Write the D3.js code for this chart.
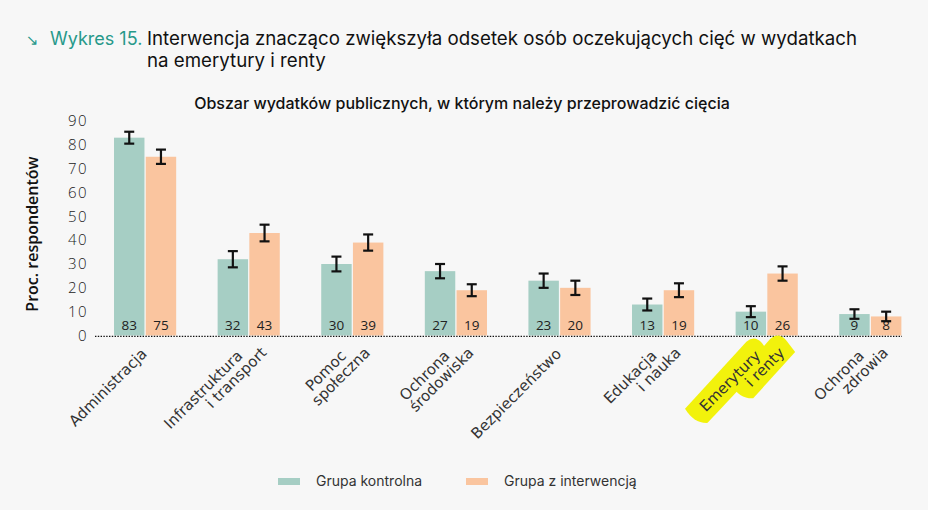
<!DOCTYPE html>
<html>
<head>
<meta charset="utf-8">
<script src="https://cdn.jsdelivr.net/npm/d3@7"></script>
<style>
  html, body { margin: 0; padding: 0; background: #f7f7f7; }
  svg { display: block; }
</style>
</head>
<body>
<svg id="chart" width="928" height="510"></svg>
<script>
// ---- data ----
const categories = [
  ["Administracja"],
  ["Infrastruktura", "i transport"],
  ["Pomoc", "społeczna"],
  ["Ochrona", "środowiska"],
  ["Bezpieczeństwo"],
  ["Edukacja", "i nauka"],
  ["Emerytury", "i renty"],
  ["Ochrona", "zdrowia"]
];
const seriesNames = ["Grupa kontrolna", "Grupa z interwencją"];
const controlValues = [83, 32, 30, 27, 23, 13, 10, 9];
const interventionValues = [75, 43, 39, 19, 20, 19, 26, 8];
const controlErrors = [2.5, 3.4, 3.1, 3.0, 3.0, 2.5, 2.3, 2.0];
const interventionErrors = [3.0, 3.5, 3.4, 2.5, 3.0, 2.9, 3.0, 2.0];
const yTicks = [0, 10, 20, 30, 40, 50, 60, 70, 80, 90];
const highlightIndex = 6;

const colors = ["#a6cec4", "#fac59f"];
const teal = "#27998a";

const svg = d3.select("#chart");

// title
const title = svg.append("g").attr("font-family", "Inter, Roboto, sans-serif");
title.append("text").attr("x", 26).attr("y", 45).attr("fill", teal)
  .attr("font-size", 15).attr("font-family", "DejaVu Sans").text("↘");
title.append("text").attr("x", 50).attr("y", 45).attr("fill", teal)
  .attr("font-size", 18).text("Wykres 15.");
title.append("text").attr("x", 147).attr("y", 45).attr("fill", "#111")
  .attr("font-size", 18.7).text("Interwencja znacząco zwiększyła odsetek osób oczekujących cięć w wydatkach");
title.append("text").attr("x", 147).attr("y", 67).attr("fill", "#111")
  .attr("font-size", 18.7).text("na emerytury i renty");

// subtitle
svg.append("text").attr("x", 462).attr("y", 109).attr("text-anchor", "middle")
  .attr("font-family", "Inter, sans-serif").attr("font-weight", 500)
  .attr("font-size", 16).attr("fill", "#111")
  .text("Obszar wydatków publicznych, w którym należy przeprowadzić cięcia");

// scales
const idx = d3.range(categories.length);
const x0 = d3.scaleBand().domain(idx).range([93.3, 922.1]).paddingInner(0.4).paddingOuter(0.2);
const x1 = d3.scaleBand().domain([0, 1]).range([0, x0.bandwidth()]).paddingInner(0.04);
const y = d3.scaleLinear().domain([0, 90]).range([335.5, 121]);

// y axis
const yAxis = d3.axisLeft(y).tickValues(yTicks).tickSize(0).tickPadding(0);
const gy = svg.append("g").attr("transform", "translate(88,0)").call(yAxis);
gy.select(".domain").remove();
gy.selectAll("text").attr("font-family", "'Open Sans', sans-serif").attr("font-size", 15)
  .attr("font-weight", 300).attr("letter-spacing", 1.5).attr("fill", "#222");

// y title
svg.append("text").attr("transform", "translate(38,234) rotate(-90)")
  .attr("text-anchor", "middle").attr("font-family", "'Open Sans', sans-serif")
  .attr("font-weight", 600).attr("font-size", 16).attr("fill", "#111")
  .text("Proc. respondentów");

// bars
const rows = idx.map(i => ({
  i,
  vals: [controlValues[i], interventionValues[i]],
  errs: [controlErrors[i], interventionErrors[i]]
}));
const groups = svg.append("g").selectAll("g").data(rows).join("g")
  .attr("transform", d => `translate(${x0(d.i)},0)`);

const cells = groups.selectAll("g.cell")
  .data(d => d.vals.map((v, s) => ({ v, s, e: d.errs[s] })))
  .join("g").attr("class", "cell");

cells.append("rect")
  .attr("x", d => x1(d.s)).attr("width", x1.bandwidth())
  .attr("y", d => y(d.v)).attr("height", d => y(0) - y(d.v))
  .attr("fill", d => colors[d.s]);

cells.append("text")
  .attr("x", d => x1(d.s) + x1.bandwidth() / 2).attr("y", 330)
  .attr("text-anchor", "middle").attr("font-family", "'Open Sans', sans-serif")
  .attr("font-size", 13.5).attr("fill", "#222").text(d => d.v);

// error bars
const eb = cells.append("g").attr("stroke", "#111").attr("stroke-width", 2.2);
eb.append("line")
  .attr("x1", d => x1(d.s) + x1.bandwidth() / 2).attr("x2", d => x1(d.s) + x1.bandwidth() / 2)
  .attr("y1", d => y(d.v + d.e)).attr("y2", d => y(d.v - d.e));
eb.append("line")
  .attr("x1", d => x1(d.s) + x1.bandwidth() / 2 - 5).attr("x2", d => x1(d.s) + x1.bandwidth() / 2 + 5)
  .attr("y1", d => y(d.v + d.e)).attr("y2", d => y(d.v + d.e));
eb.append("line")
  .attr("x1", d => x1(d.s) + x1.bandwidth() / 2 - 5).attr("x2", d => x1(d.s) + x1.bandwidth() / 2 + 5)
  .attr("y1", d => y(d.v - d.e)).attr("y2", d => y(d.v - d.e));

// baseline
svg.append("line").attr("x1", 95).attr("x2", 902).attr("y1", y(0) + 0.8).attr("y2", y(0) + 0.8)
  .attr("stroke", "#111").attr("stroke-width", 1.3).attr("stroke-dasharray", "1.4,1.4");

// category labels
const hl = svg.append("g").attr("fill", "#f2f20c");
const labelG = svg.append("g").attr("font-family", "'DejaVu Sans', Verdana, sans-serif")
  .attr("font-size", 15).attr("fill", "#333");

categories.forEach((lines, i) => {
  const cx = x0(i) + x0.bandwidth() / 2;
  let ax, ay;
  if (lines.length === 1) { ax = [cx - 1]; ay = [351]; }
  else { ax = [cx - 9, cx + 15]; ay = [353, 350]; }
  lines.forEach((t, k) => {
    const tx = labelG.append("text")
      .attr("transform", `translate(${ax[k]},${ay[k]}) rotate(-45)`)
      .attr("text-anchor", "end").attr("dy", "0.35em").text(t);
    if (i === highlightIndex) {
      const L = tx.node().getComputedTextLength();
      hl.append("path")
        .attr("transform", `translate(${ax[k]},${ay[k]}) rotate(-45)`)
        .attr("d", `M ${-L - 12} -12 L 0 -16 Q 11 -15 10 -4 L 8 11 L ${-L - 6} 14 Q ${-L - 16} 5 ${-L - 12} -12 Z`);
    }
  });
});

// legend
const legend = svg.append("g").attr("font-family", "Inter, Roboto, sans-serif")
  .attr("font-size", 14).attr("fill", "#333");
const legX = [278, 466];
seriesNames.forEach((n, s) => {
  legend.append("rect").attr("x", legX[s]).attr("y", 478).attr("width", 22).attr("height", 7)
    .attr("fill", colors[s]);
  legend.append("text").attr("x", legX[s] + 38).attr("y", 486).text(n);
});
</script>
</body>
</html>
